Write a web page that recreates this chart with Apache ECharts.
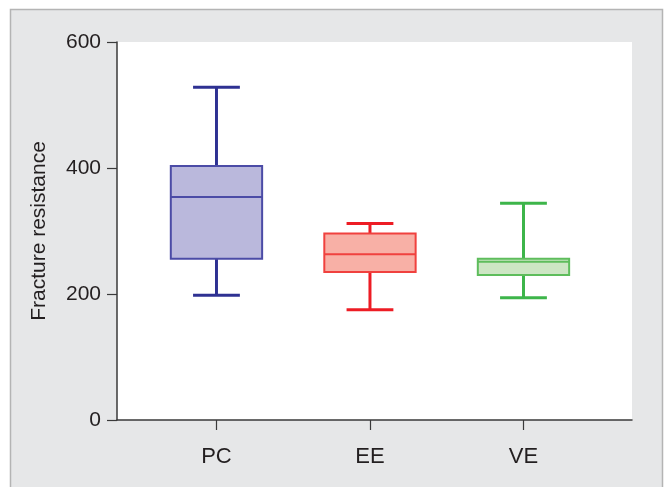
<!DOCTYPE html>
<html>
<head>
<meta charset="utf-8">
<script src="https://cdn.jsdelivr.net/npm/echarts@6/dist/echarts.min.js"></script>
<style>html,body{margin:0;padding:0;background:#fff}#c{width:665px;height:487px}</style>
</head>
<body>
<div id="c"></div>
<script>
const categories = ['PC', 'EE', 'VE'];
const whiskerLow = [198, 175, 194];
const q1 = [256, 235, 230];
const median = [354, 263, 251];
const q3 = [403, 296, 256];
const whiskerHigh = [528, 312, 344];
const yTicks = [0, 200, 400, 600];

const strokeColors = ['#2e3192', '#ed1c24', '#3db54a'];
const boxStroke = ['#4b4ba6', '#f0413e', '#5ebd5c'];
const fillColors = ['#bab8dc', '#f8b0a6', '#cde6c4'];

const data = categories.map((c, i) => [i, whiskerLow[i], q1[i], median[i], q3[i], whiskerHigh[i]]);

const FONT = 'Liberation Sans, Arial, sans-serif';
const chart = echarts.init(document.getElementById('c'), null, {renderer: 'canvas'});
chart.setOption({
  animation: false,
  backgroundColor: '#ffffff',
  graphic: [{
    type: 'rect', z: -10, silent: true,
    shape: {x: 10.5, y: 9.5, width: 652, height: 490},
    style: {fill: '#e6e7e8', stroke: '#b4b4b4', lineWidth: 1.5}
  }],
  grid: {left: 117, right: 33, top: 42, bottom: 67, show: true, backgroundColor: '#ffffff', borderWidth: 0},
  xAxis: {
    type: 'value', min: -0.648, max: 2.707,
    splitLine: {show: false},
    axisLine: {show: true, onZero: false, lineStyle: {color: '#3a3a3a', width: 1.5}},
    axisTick: {show: true, customValues: [0, 1, 2], length: 10, lineStyle: {color: '#3a3a3a', width: 1.2}},
    axisLabel: {customValues: [0, 1, 2], formatter: v => categories[Math.round(v)], color: '#231f20', fontSize: 22, fontFamily: FONT, margin: 26}
  },
  yAxis: {
    type: 'value', min: 0, max: 600, interval: 200,
    name: 'Fracture resistance', nameLocation: 'middle', nameGap: 67,
    nameTextStyle: {color: '#231f20', fontSize: 21, fontFamily: FONT},
    splitLine: {show: false},
    axisLine: {show: true, onZero: false, lineStyle: {color: '#3a3a3a', width: 1.5}},
    axisTick: {show: true, length: 10, lineStyle: {color: '#3a3a3a', width: 1.2}},
    axisLabel: {color: '#231f20', fontSize: 21, fontFamily: FONT, margin: 16, customValues: yTicks}
  },
  series: [{
    type: 'custom',
    data: data,
    encode: {x: 0, y: [1, 2, 3, 4, 5]},
    renderItem: function (params, api) {
      const i = api.value(0);
      const xc = api.coord([i, 0])[0];
      const unit = api.size([1, 0])[0];
      const bw = unit * 0.595, cw = unit * 0.305;
      const yLow = api.coord([i, api.value(1)])[1];
      const yQ1 = api.coord([i, api.value(2)])[1];
      const yMed = api.coord([i, api.value(3)])[1];
      const yQ3 = api.coord([i, api.value(4)])[1];
      const yHigh = api.coord([i, api.value(5)])[1];
      const sc = strokeColors[i], bs = boxStroke[i], fc = fillColors[i];
      return {
        type: 'group',
        children: [
          {type: 'line', shape: {x1: xc, y1: yQ3, x2: xc, y2: yHigh}, style: {stroke: sc, lineWidth: 3}},
          {type: 'line', shape: {x1: xc, y1: yQ1, x2: xc, y2: yLow}, style: {stroke: sc, lineWidth: 3}},
          {type: 'line', shape: {x1: xc - cw / 2, y1: yHigh, x2: xc + cw / 2, y2: yHigh}, style: {stroke: sc, lineWidth: 3}},
          {type: 'line', shape: {x1: xc - cw / 2, y1: yLow, x2: xc + cw / 2, y2: yLow}, style: {stroke: sc, lineWidth: 3}},
          {type: 'rect', shape: {x: xc - bw / 2, y: yQ3, width: bw, height: yQ1 - yQ3}, style: {fill: fc, stroke: bs, lineWidth: 2}},
          {type: 'line', shape: {x1: xc - bw / 2, y1: yMed, x2: xc + bw / 2, y2: yMed}, style: {stroke: bs, lineWidth: 2}}
        ]
      };
    }
  }]
});
</script>
</body>
</html>
